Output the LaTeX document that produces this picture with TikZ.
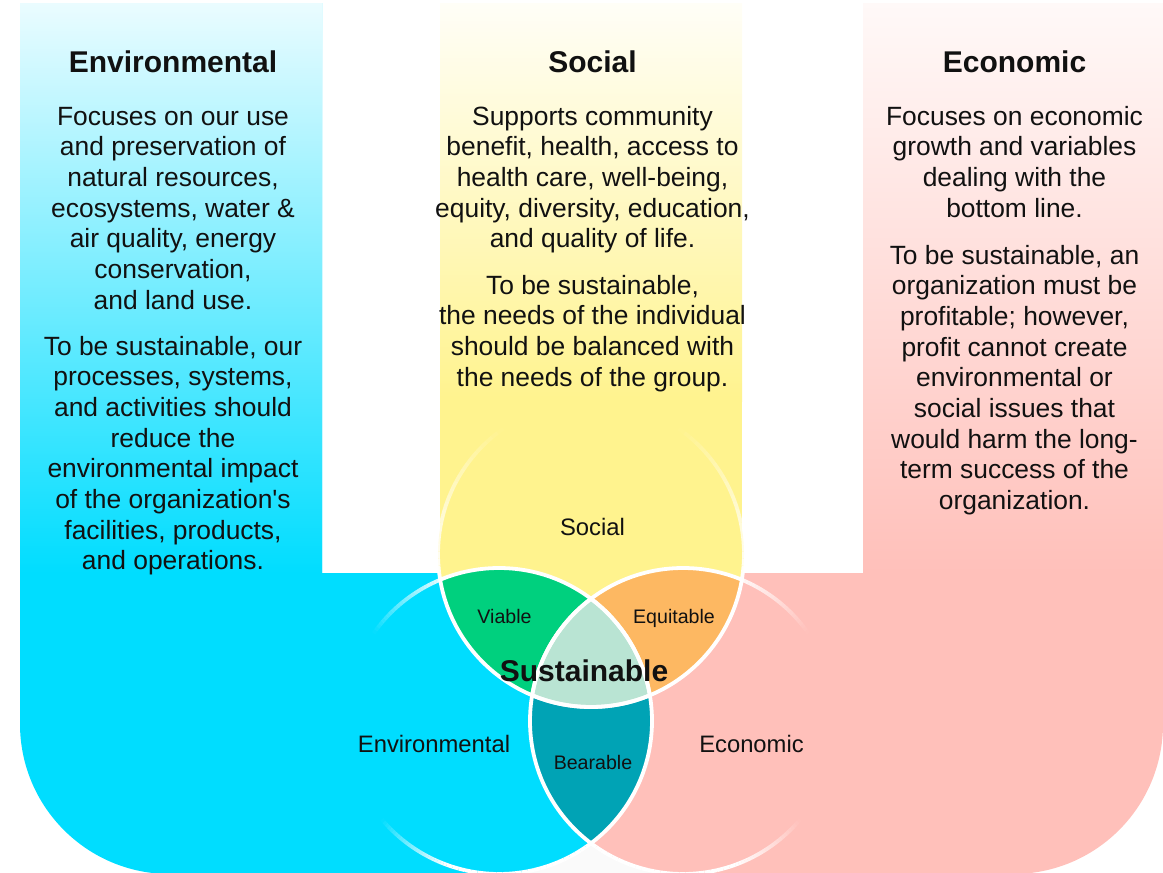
\documentclass[tikz,border=0pt]{standalone}
\usepackage{fontspec}
\setmainfont{Liberation Sans}
\usetikzlibrary{calc}
\definecolor{envblue}{HTML}{00DDFF}
\definecolor{envtop}{HTML}{EAFCFF}
\definecolor{socyellow}{HTML}{FFF38E}
\definecolor{soctop}{HTML}{FFFEF7}
\definecolor{ecopink}{HTML}{FFC0BA}
\definecolor{ecotop}{HTML}{FFF9F8}
\definecolor{viablegreen}{HTML}{00D07E}
\definecolor{equiorange}{HTML}{FDB862}
\definecolor{sustmint}{HTML}{B9E4D3}
\definecolor{bearteal}{HTML}{00A3B5}
\definecolor{inkc}{HTML}{111111}
\definecolor{gapwhite}{HTML}{FAFAFA}
\tikzset{
  bodytext/.style={font=\fontsize{26.4}{30.7}\selectfont, anchor=base, inner sep=0pt, text=inkc},
  headtext/.style={font=\fontsize{30}{36}\selectfont\bfseries, anchor=base, inner sep=0pt, text=inkc},
  vennlabel/.style={font=\fontsize{23.8}{28}\selectfont, anchor=base, inner sep=0pt, text=inkc},
  lenslabel/.style={font=\fontsize{19.6}{24}\selectfont, anchor=base, inner sep=0pt, text=inkc},
  ring/.style={draw=white, line width=3.8pt},
}
\newcommand\parabox[1]{\parbox[t]{370pt}{\centering #1}}
% faded outer arc: centre, start angle, end angle, start opacity, end opacity
\newcommand\fadedarc[5]{%
  \foreach \i in {1,...,24}{%
    \pgfmathsetmacro\aa{#2+(#3-#2)*(\i-1)/24}%
    \pgfmathsetmacro\ab{#2+(#3-#2)*\i/24}%
    \pgfmathsetmacro\op{#4+(#5-#4)*((\i-0.5)/24)}%
    \draw[ring, opacity=\op] ($(#1)+(\aa:153)$) arc[start angle=\aa, end angle=\ab, radius=153];
  }}
\begin{document}
\begin{tikzpicture}[x=1pt, y=-1pt]
\useasboundingbox (0,0) rectangle (1163,873);
\coordinate (S) at (591,554);
\coordinate (E) at (499,721);
\coordinate (C) at (683,721);

% background shapes
\fill[envblue] (20,3) -- (322,3) -- (322,573) -- (591,573) -- (591,874) -- (170,874)
   arc[start angle=90, end angle=180, radius=150] -- cycle;
\shade[top color=envtop, bottom color=envblue] (20,3) rectangle (322,573);
\fill[ecopink] (863,3) -- (1163,3) -- (1163,724) arc[start angle=0, end angle=90, radius=150]
   -- (591,874) -- (591,573) -- (863,573) -- cycle;
\shade[top color=ecotop, bottom color=ecopink] (863,3) rectangle (1163,573);
\shade[top color=soctop, bottom color=socyellow] (440,3) rectangle (742,401);
\fill[socyellow] (440,400) rectangle (742,574);

% circles
\fill[envblue] (E) circle[radius=153];
\fill[ecopink] (C) circle[radius=153];
\fill[socyellow] (S) circle[radius=153];
\begin{scope}\clip (S) circle[radius=153]; \fill[viablegreen] (E) circle[radius=153];\end{scope}
\begin{scope}\clip (S) circle[radius=153]; \fill[equiorange] (C) circle[radius=153];\end{scope}
\begin{scope}\clip (E) circle[radius=153]; \fill[bearteal] (C) circle[radius=153];\end{scope}
\begin{scope}\clip (S) circle[radius=153]; \clip (E) circle[radius=153]; \fill[sustmint] (C) circle[radius=153];\end{scope}
% light gap below the circles
\fill[gapwhite] ($(E)+(53:153)$) arc[start angle=53, end angle=85, radius=153] -- (512,880)
   -- (670,880) -- ($(C)+(95:153)$) arc[start angle=95, end angle=127, radius=153] -- cycle;

% outlines
\begin{scope}\clip (S) circle[radius=153]; \draw[ring] (E) circle[radius=153]; \draw[ring] (C) circle[radius=153];\end{scope}
\begin{scope}\clip (E) circle[radius=153]; \draw[ring] (S) circle[radius=153]; \draw[ring] (C) circle[radius=153];\end{scope}
\begin{scope}\clip (C) circle[radius=153]; \draw[ring] (S) circle[radius=153]; \draw[ring] (E) circle[radius=153];\end{scope}
\fadedarc{E}{247.3}{215}{0.9}{0}
\fadedarc{E}{53}{110}{1}{1}
\fadedarc{E}{110}{140}{1}{0}
\fadedarc{C}{292.7}{325}{0.9}{0}
\fadedarc{C}{127}{70}{1}{1}
\fadedarc{C}{70}{40}{1}{0}
\fadedarc{S}{170.2}{235}{1}{0}
\fadedarc{S}{9.8}{-55}{1}{0}

% column texts
\node[headtext] (envhead) at (173,72) {Environmental};
\node[headtext] (sochead) at (592.5,72) {Social};
\node[headtext] (ecohead) at (1014.5,72) {Economic};

\node[bodytext] (envp1) at (173,125) {\parabox{Focuses on our use\\and preservation of\\natural resources,\\ecosystems, water \&\\air quality, energy\\conservation,\\and land use.}};
\node[bodytext] (envp2) at (173,355) {\parabox{To be sustainable, our\\processes, systems,\\and activities should\\reduce the\\environmental impact\\of the organization\textquotesingle s\\facilities, products,\\and operations.}};

\node[bodytext] (socp1) at (592.5,125) {\parabox{Supports community\\benefit, health, access to\\health care, well-being,\\equity, diversity, education,\\and quality of life.}};
\node[bodytext] (socp2) at (592.5,294) {\parabox{To be sustainable,\\the needs of the individual\\should be balanced with\\the needs of the group.}};

\node[bodytext] (ecop1) at (1014.5,125) {\parabox{Focuses on economic\\growth and variables\\dealing with the\\bottom line.}};
\node[bodytext] (ecop2) at (1014.5,264) {\parabox{To be sustainable, an\\organization must be\\profitable; however,\\profit cannot create\\environmental or\\social issues that\\would harm the long-\\term success of the\\organization.}};

% venn labels
\node[vennlabel] (vsoc) at (592.5,535) {Social};
\node[vennlabel] (venv) at (434,752.5) {Environmental};
\node[vennlabel] (veco) at (751.5,752.5) {Economic};
\node[lenslabel] (vviable) at (504.5,623.5) {Viable};
\node[lenslabel] (vequit) at (674,623.5) {Equitable};
\node[lenslabel] (vbear) at (593,769.5) {Bearable};
\node[headtext] (vsust) at (584,681) {Sustainable};
\end{tikzpicture}
\end{document}
